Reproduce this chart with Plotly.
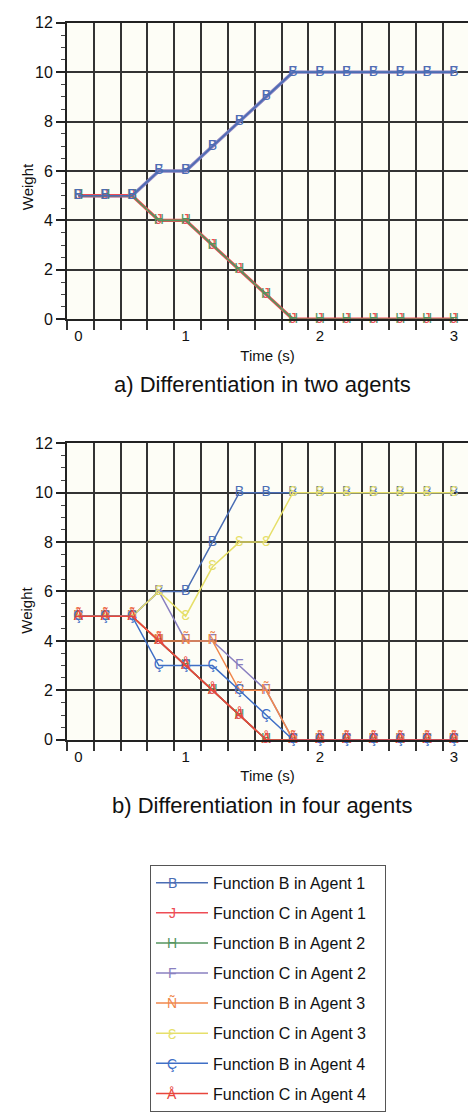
import plotly.graph_objects as go

# ---------------- data ----------------
time_s = [0.0, 0.2, 0.4, 0.6, 0.8, 1.0, 1.2, 1.4, 1.6, 1.8, 2.0, 2.2, 2.4, 2.6, 2.8]
x_tick_vals = [0.0, 0.8, 1.8, 2.8]
x_tick_text = ["0", "1", "2", "3"]
y_tick_vals = [0, 2, 4, 6, 8, 10, 12]

series_names = [
    "Function B in Agent 1", "Function C in Agent 1",
    "Function B in Agent 2", "Function C in Agent 2",
    "Function B in Agent 3", "Function C in Agent 3",
    "Function B in Agent 4", "Function C in Agent 4",
]
series_glyphs = ["B", "J", "H", "F", "Ñ", "Ɛ", "Ç", "Å"]
series_colors = ["#4a6db4", "#ee4d55", "#55945f", "#8a80c0",
                 "#f0874c", "#e6df6a", "#3f6fc6", "#e8463c"]

# a) two agents
two_b1 = [5, 5, 5, 6, 6, 7, 8, 9, 10, 10, 10, 10, 10, 10, 10]
two_c1 = [5, 5, 5, 4, 4, 3, 2, 1, 0, 0, 0, 0, 0, 0, 0]
two_b2 = [5, 5, 5, 4, 4, 3, 2, 1, 0, 0, 0, 0, 0, 0, 0]
two_c2 = [5, 5, 5, 6, 6, 7, 8, 9, 10, 10, 10, 10, 10, 10, 10]

# b) four agents
four_b1 = [5, 5, 5, 6, 6, 8, 10, 10, 10, 10, 10, 10, 10, 10, 10]
four_c1 = [5, 5, 5, 4, 3, 2, 1, 0, 0, 0, 0, 0, 0, 0, 0]
four_b2 = [5, 5, 5, 4, 3, 2, 1, 0, 0, 0, 0, 0, 0, 0, 0]
four_c2 = [5, 5, 5, 6, 4, 4, 3, 2, 0, 0, 0, 0, 0, 0, 0]
four_b3 = [5, 5, 5, 4, 4, 4, 2, 2, 0, 0, 0, 0, 0, 0, 0]
four_c3 = [5, 5, 5, 6, 5, 7, 8, 8, 10, 10, 10, 10, 10, 10, 10]
four_b4 = [5, 5, 5, 3, 3, 3, 2, 1, 0, 0, 0, 0, 0, 0, 0]
four_c4 = [5, 5, 5, 4, 3, 2, 1, 0, 0, 0, 0, 0, 0, 0, 0]

two_series = [two_b1, two_c1, two_b2, two_c2]
four_series = [four_b1, four_c1, four_b2, four_c2, four_b3, four_c3, four_b4, four_c4]

FONT = "Liberation Sans, Arial, Helvetica, sans-serif"
W, H = 468, 1119
GLYPH_SIZE = 14

fig = go.Figure()

# top panel: draw wide under-lines first (purple, red), then thin ones on top
top_order = [3, 1, 2, 0]
top_widths = {0: 1.6, 1: 3.2, 2: 1.6, 3: 3.4}
for i in top_order:
    ys = two_series[i]
    fig.add_trace(go.Scatter(
        x=time_s, y=ys, mode="lines+text", text=[series_glyphs[i]] * len(ys),
        textposition="middle center",
        textfont=dict(family=FONT, size=GLYPH_SIZE, color=series_colors[i]),
        line=dict(color=series_colors[i], width=top_widths[i]),
        name=series_names[i], showlegend=False, xaxis="x", yaxis="y",
        cliponaxis=False,
    ))

for i, ys in enumerate(four_series):
    fig.add_trace(go.Scatter(
        x=time_s, y=ys, mode="lines+text", text=[series_glyphs[i]] * len(ys),
        textposition="middle center",
        textfont=dict(family=FONT, size=GLYPH_SIZE, color=series_colors[i]),
        line=dict(color=series_colors[i], width=1.5),
        name=series_names[i] + "\u00a0\u00a0\u00a0", showlegend=True,
        legendgroup=f"g{i}", xaxis="x2", yaxis="y2", cliponaxis=False,
    ))

GRID = "#333333"
x_left = 67 / W


def xaxis_cfg(anchor):
    return dict(
        domain=[x_left, 1.0], anchor=anchor, range=[-0.085, 2.905],
        tickmode="array", tickvals=x_tick_vals, ticktext=x_tick_text,
        ticks="outside", ticklen=2, tickcolor="rgba(0,0,0,0)",
        showgrid=False, zeroline=False,
        showline=True, linecolor="#222", linewidth=2, mirror=True,
        tickfont=dict(family=FONT, size=15, color="#111"),
        minor=dict(tickmode="linear", tick0=0.115, dtick=0.2, showgrid=True,
                   gridcolor=GRID, gridwidth=1.6, ticks="outside", ticklen=9,
                   tickcolor=GRID, tickwidth=1.6),
        title=dict(text="Time (s)", font=dict(family=FONT, size=15, color="#111"),
                   standoff=7),
    )


def yaxis_cfg(anchor, dom):
    return dict(
        domain=dom, anchor=anchor, range=[0, 12],
        tickmode="array", tickvals=y_tick_vals,
        ticks="outside", ticklen=9, tickcolor="#222", tickwidth=1.6,
        showgrid=True, gridcolor=GRID, gridwidth=1.6, zeroline=False,
        showline=True, linecolor="#222", linewidth=2,
        tickfont=dict(family=FONT, size=16, color="#111"),
        minor=dict(tickmode="linear", tick0=0, dtick=0.5, ticks="outside",
                   ticklen=4, tickcolor="#444", tickwidth=1, showgrid=False),
    )


top_dom = [1 - 316 / H, 1 - 15 / H]
bot_dom = [1 - 743 / H, 1 - 442 / H]


def label(text, x, y, size, angle=0, color="#111"):
    return dict(text=text, x=x / W, y=1 - y / H, xref="paper", yref="paper",
                showarrow=False, textangle=angle, xanchor="center",
                yanchor="middle", font=dict(family=FONT, size=size, color=color))


annotations = [
    label("a) Differentiation in two agents", 262, 382, 22),
    label("b) Differentiation in four agents", 262, 810, 22),
    label("Weight", 27, 182, 15, -90),
    label("Weight", 27, 612, 15, -90),
]

# legend geometry (pixels)
LEG_LEFT, LEG_TOP = 150, 870
LEG_FIRST, LEG_STEP = 18, 30.7
LEG_SYMBOL_X = LEG_LEFT + 22
for i, g in enumerate(series_glyphs):
    annotations.append(label(g, LEG_SYMBOL_X, LEG_TOP + LEG_FIRST + i * LEG_STEP,
                             GLYPH_SIZE, color=series_colors[i]))

fig.update_layout(
    width=W, height=H, margin=dict(l=0, r=0, t=0, b=0),
    paper_bgcolor="white", plot_bgcolor="#fdfdf6",
    xaxis=xaxis_cfg("y"), yaxis=yaxis_cfg("x", top_dom),
    xaxis2=xaxis_cfg("y2"), yaxis2=yaxis_cfg("x2", bot_dom),
    annotations=annotations,
    legend=dict(
        x=LEG_LEFT / W, y=1 - LEG_TOP / H, xanchor="left", yanchor="top",
        bgcolor="white", bordercolor="#555", borderwidth=1,
        font=dict(family=FONT, size=16, color="#111"),
        itemwidth=52, tracegroupgap=6.3, traceorder="grouped",
    ),
)

fig.write_html(
    "out.html",
    config={"displayModeBar": False},
    post_script="document.body.style.margin='0px';"
                "document.documentElement.style.overflow='hidden';",
)
